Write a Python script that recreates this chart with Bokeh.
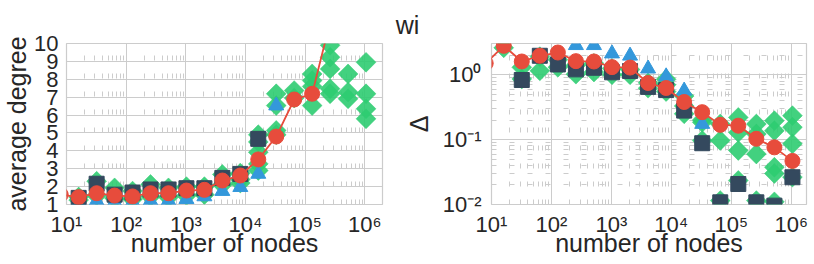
import math
from bokeh.plotting import figure
from bokeh.models import FixedTicker, CustomJSTickFormatter
from bokeh.core.properties import value
from bokeh.layouts import column, row
from bokeh.embed import file_html
from bokeh.resources import INLINE

# ---------------- data ----------------
title_text = "wi"
x_label = "number of nodes"
y_label_left = "average degree"
y_label_right = "\u0394"

# red circles (with line)
red_x_deg = [8, 16, 32, 64, 128, 256, 512, 1024, 2048, 4096, 8192, 16384, 32768, 65536, 131072, 262144]
red_deg = [1.55, 1.41, 1.63, 1.50, 1.45, 1.63, 1.63, 1.78, 1.82, 2.34, 2.62, 3.52, 4.80, 6.87, 7.19, 11.2]
red_x_delta = [8, 16, 32, 64, 128, 256, 512, 1024, 2048, 4096, 8192, 16384, 32768, 65536, 131072, 262144, 524288, 1048576]
red_delta = [1.5, 2.79, 1.60, 1.96, 2.20, 1.62, 1.60, 1.31, 1.29, 0.745, 0.624, 0.38, 0.265, 0.169, 0.164, 0.103, 0.076, 0.047]

# dark squares
sq_x_deg = [16, 32, 64, 128, 256, 512, 1024, 2048, 4096, 8192, 16384]
sq_deg = [1.37, 2.16, 1.55, 1.67, 1.84, 1.84, 1.91, 1.91, 2.49, 2.71, 4.67]
sq_x_delta = [32, 64, 128, 256, 512, 1024, 2048, 4096, 8192, 16384, 32768, 65536, 131072, 262144, 524288, 1048576]
sq_delta = [0.83, 1.96, 1.44, 1.21, 1.28, 1.09, 1.14, 0.65, 0.58, 0.28, 0.088, 0.0108, 0.0207, 0.0108, 0.0096, 0.0263]

# blue triangles
tri_x_deg = [16, 32, 64, 128, 256, 512, 1024, 2048, 4096, 8192, 16384, 32768]
tri_deg = [1.15, 1.2, 1.15, 1.15, 1.2, 1.2, 1.3, 1.45, 1.75, 1.97, 2.71, 6.53]
tri_x_delta = [256, 512, 1024, 2048, 4096, 8192, 16384, 32768]
tri_delta = [2.85, 2.85, 2.12, 1.96, 1.24, 0.94, 0.567, 0.174]

# green diamonds (individual samples)
dia_x_deg = [16, 16, 32, 32, 64, 64, 128, 128, 256, 256, 512, 512, 1024, 1024, 2048, 2048,
             4096, 4096, 8192, 8192, 8192,
             16384, 16384, 16384, 16384, 16384,
             32768, 32768, 32768, 32768,
             65536, 65536,
             131072, 131072, 131072, 131072,
             262144, 262144, 262144, 262144, 262144,
             524288, 524288, 524288,
             1048576, 1048576, 1048576, 1048576]
dia_deg = [1.42, 1.25, 2.3, 1.5, 1.93, 1.35, 1.75, 1.3, 2.12, 1.45, 1.93, 1.4, 2.0, 1.5, 2.0, 1.55,
           2.68, 2.1, 2.75, 2.4, 2.2,
           4.9, 4.5, 3.92, 3.27, 2.9,
           7.19, 6.53, 5.14, 4.9,
           7.37, 6.95,
           8.3, 7.93, 7.6, 6.53,
           9.9, 9.23, 8.58, 7.47, 7.19,
           8.3, 7.28, 6.91,
           8.95, 7.19, 6.35, 5.79]

dia_x_delta = [16, 32, 32, 64, 64, 128, 128, 256, 256, 512, 512, 1024, 1024, 2048, 2048,
               4096, 4096, 8192, 8192, 8192,
               16384, 16384, 16384,
               32768, 32768, 32768,
               65536, 65536, 65536,
               131072, 131072, 131072, 131072,
               262144, 262144, 262144, 262144,
               524288, 524288, 524288, 524288, 524288,
               1048576, 1048576, 1048576, 1048576]
dia_delta = [2.6, 1.30, 0.86, 1.15, 1.9, 1.7, 1.3, 1.02, 1.4, 1.1, 1.5, 1.0, 1.25, 1.0, 1.2,
             0.62, 0.75, 0.55, 0.7, 0.85,
             0.47, 0.33, 0.25,
             0.2, 0.185, 0.097,
             0.174, 0.097, 0.0115,
             0.22, 0.129, 0.068, 0.0235,
             0.174, 0.122, 0.06, 0.0115,
             0.196, 0.137, 0.0375, 0.03, 0.011,
             0.234, 0.155, 0.086, 0.0264]

# tick positions
x_decades = [1, 2, 3, 4, 5, 6]
deg_ticks = [1, 2, 3, 4, 5, 6, 7, 8, 9, 10]
delta_decades = [-2, -1, 0]

# ---------------- style ----------------
GREEN = "#2ecc71"
BLUE = "#3498db"
DARK = "#34495e"
RED = "#e74c3c"
GRID = "#cccccc"
TEXT = "#262626"
FONT = "Liberation Sans"

sup_js = """
const m = {"-":"\u207b","0":"\u2070","1":"\u00b9","2":"\u00b2","3":"\u00b3","4":"\u2074",
           "5":"\u2075","6":"\u2076","7":"\u2077","8":"\u2078","9":"\u2079"};
const e = Math.round(Math.log10(tick));
return "10" + String(e).split("").map(c => m[c]).join("");
"""

x_major = [10.0 ** k for k in x_decades]
x_minor = [m * 10.0 ** k for k in [0] + x_decades for m in range(1, 10)]
y_major_r = [10.0 ** k for k in delta_decades]
y_minor_r = [m * 10.0 ** k for k in delta_decades for m in range(1, 10)]


def style(p, ylab):
    p.background_fill_color = "white"
    p.border_fill_alpha = 0
    p.outline_line_color = GRID
    p.outline_line_width = 1.2
    for ax in (p.xaxis[0], p.yaxis[0]):
        ax.axis_line_color = None
        ax.major_tick_line_color = None
        ax.minor_tick_line_color = None
        ax.major_tick_out = 0
        ax.minor_tick_out = 0
        ax.major_label_text_font = FONT
        ax.major_label_text_font_size = "22px"
        ax.major_label_text_color = TEXT
        ax.axis_label_text_font = FONT
        ax.axis_label_text_font_size = "25px"
        ax.axis_label_text_font_style = "normal"
        ax.axis_label_text_color = TEXT
    p.xaxis.axis_label = x_label
    p.yaxis.axis_label = ylab
    p.xaxis.ticker = FixedTicker(ticks=x_major, minor_ticks=x_minor)
    p.xaxis.formatter = CustomJSTickFormatter(code=sup_js)
    p.xaxis.major_label_standoff = 7
    p.xaxis.axis_label_standoff = -11
    p.xgrid.grid_line_color = GRID
    p.xgrid.grid_line_width = 1
    p.xgrid.minor_grid_line_color = GRID
    p.xgrid.minor_grid_line_width = 1
    p.xgrid.minor_grid_line_dash = "5 13"
    p.ygrid.grid_line_color = GRID
    p.ygrid.grid_line_width = 1


# title strip spanning both panels (pixel-unit ranges)
p0 = figure(width=814, height=36, x_range=(0, 814), y_range=(0, 36), title=None,
            x_axis_location=None, y_axis_location=None, min_border=0,
            output_backend="svg", toolbar_location=None)
p0.grid.visible = False
p0.outline_line_color = None
p0.background_fill_alpha = 0
p0.border_fill_alpha = 0
p0.text(x=[407], y=[11.5], text=[title_text], text_align="center", text_baseline="alphabetic",
        text_font=value(FONT), text_font_size="25px", text_color=TEXT)

common = dict(output_backend="svg", toolbar_location=None, x_axis_type="log",
              min_border_top=13, min_border_bottom=56, height=230)

# left: average degree
p1 = figure(width=399, x_range=(10, 1.98e6), y_range=(1, 10),
            min_border_left=65, min_border_right=17, **common)
style(p1, y_label_left)
p1.yaxis.ticker = FixedTicker(ticks=deg_ticks)
p1.yaxis.major_label_standoff = 8
p1.yaxis.axis_label_standoff = 0

p1.scatter(dia_x_deg, dia_deg, marker="square", angle=math.pi / 4, size=14,
           fill_color=GREEN, fill_alpha=0.9, line_color=GREEN, line_alpha=0.5)
p1.scatter(tri_x_deg, tri_deg, marker="triangle", size=15, fill_color=BLUE, line_color=BLUE)
p1.scatter(sq_x_deg, sq_deg, marker="square", size=15, fill_color=DARK, line_color=DARK)
p1.line(red_x_deg, red_deg, line_color=RED, line_width=1.8)
p1.scatter(red_x_deg, red_deg, marker="circle", size=15, fill_color=RED, line_color=RED)

# right: Delta
p2 = figure(width=415, x_range=(10, 1.8e6), y_range=(0.01, 3.03), y_axis_type="log",
            min_border_left=92, min_border_right=8, **common)
style(p2, y_label_right)
p2.yaxis.ticker = FixedTicker(ticks=y_major_r, minor_ticks=y_minor_r)
p2.yaxis.formatter = CustomJSTickFormatter(code=sup_js)
p2.yaxis.major_label_standoff = 10
p2.yaxis.axis_label_standoff = 7
p2.ygrid.minor_grid_line_color = GRID
p2.ygrid.minor_grid_line_width = 1
p2.ygrid.minor_grid_line_dash = "5 13"

p2.scatter(dia_x_delta, dia_delta, marker="square", angle=math.pi / 4, size=14,
           fill_color=GREEN, fill_alpha=0.9, line_color=GREEN, line_alpha=0.5)
p2.scatter(tri_x_delta, tri_delta, marker="triangle", size=15, fill_color=BLUE, line_color=BLUE)
p2.scatter(sq_x_delta, sq_delta, marker="square", size=15, fill_color=DARK, line_color=DARK)
p2.line(red_x_delta, red_delta, line_color=RED, line_width=1.8)
p2.scatter(red_x_delta, red_delta, marker="circle", size=15, fill_color=RED, line_color=RED)

panels = row(p1, p2, spacing=0, margin=(-6, 0, 0, 0))
layout = column(p0, panels, spacing=0)

open("out.html", "w").write(file_html(layout, INLINE))
